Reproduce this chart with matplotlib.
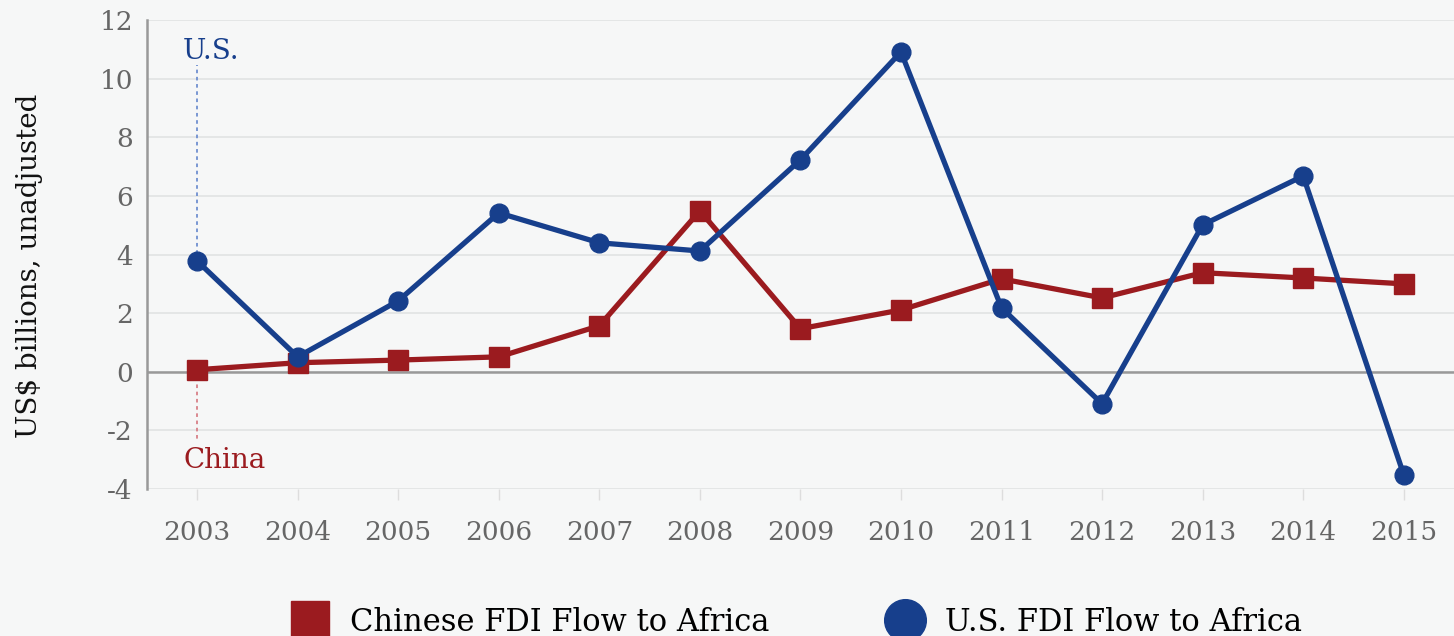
import matplotlib
matplotlib.use('Agg')
import matplotlib.pyplot as plt
from matplotlib.lines import Line2D

plt.rcParams['axes.unicode_minus'] = False

years = [2003, 2004, 2005, 2006, 2007, 2008, 2009, 2010, 2011, 2012, 2013, 2014, 2015]
china_fdi = [0.07, 0.31, 0.40, 0.51, 1.57, 5.49, 1.47, 2.11, 3.17, 2.52, 3.38, 3.20, 3.00]
us_fdi = [3.78, 0.51, 2.42, 5.42, 4.40, 4.12, 7.23, 10.91, 2.18, -1.09, 5.01, 6.68, -3.51]

red = '#9b1b1f'
blue = '#173f8c'
bg = '#f6f7f7'

fig = plt.figure(figsize=(14.54, 6.36), dpi=100, facecolor=bg)
ax = fig.add_axes([0.101, 0.231, 0.899, 0.7376], facecolor=bg)

ax.plot(years, china_fdi, color=red, lw=3.8, marker='s', ms=14, zorder=3)
ax.plot(years, us_fdi, color=blue, lw=3.8, marker='o', ms=13.5, zorder=4)

ax.set_xlim(2002.5, 2015.5)
ax.set_ylim(-4, 12)
ax.set_yticks(range(-4, 13, 2))
ax.set_xticks(years)

ax.grid(axis='y', color='#e1e3e3', lw=1.2)
ax.set_axisbelow(True)
ax.axhline(0, color='#999999', lw=1.8, zorder=2)

for s in ['top', 'right', 'bottom']:
    ax.spines[s].set_visible(False)
ax.spines['left'].set_color('#999999')
ax.spines['left'].set_linewidth(1.8)

ax.tick_params(axis='y', length=0, pad=10, labelsize=19, labelcolor='#666666')
ax.tick_params(axis='x', length=8, width=1, color='#dddddd', pad=14,
               labelsize=19, labelcolor='#666666')
for lbl in ax.get_xticklabels() + ax.get_yticklabels():
    lbl.set_fontfamily('DejaVu Serif')

ax.set_ylabel('US$ billions, unadjusted', fontsize=20, family='DejaVu Serif',
              color='#111111', va='center')
ax.yaxis.set_label_coords(-0.0895, 0.475)

# series labels with dashed leaders
ax.plot([2003, 2003], [us_fdi[0], 10.45], ls=(0, (2, 2)), color='#6f8fd0', lw=1.3, zorder=1)
ax.text(2002.86, 10.45, 'U.S.', color=blue, fontsize=20, family='DejaVu Serif', va='bottom')
ax.plot([2003, 2003], [china_fdi[0], -2.35], ls=(0, (2, 2)), color='#d88088', lw=1.3, zorder=1)
ax.text(2002.86, -3.5, 'China', color=red, fontsize=20, family='DejaVu Serif', va='bottom')

handles = [
    Line2D([], [], ls='none', marker='s', ms=27, color=red),
    Line2D([], [], ls='none', marker='o', ms=30, color=blue),
]
fig.legend(handles, ['Chinese FDI Flow to Africa', 'U.S. FDI Flow to Africa'],
           loc='center', bbox_to_anchor=(0.546, 0.022), ncol=2, frameon=False,
           prop={'family': 'DejaVu Serif', 'size': 22}, columnspacing=3.65,
           handletextpad=0.5, handlelength=1.6)

fig.savefig('out.png', dpi=100, facecolor=bg)
